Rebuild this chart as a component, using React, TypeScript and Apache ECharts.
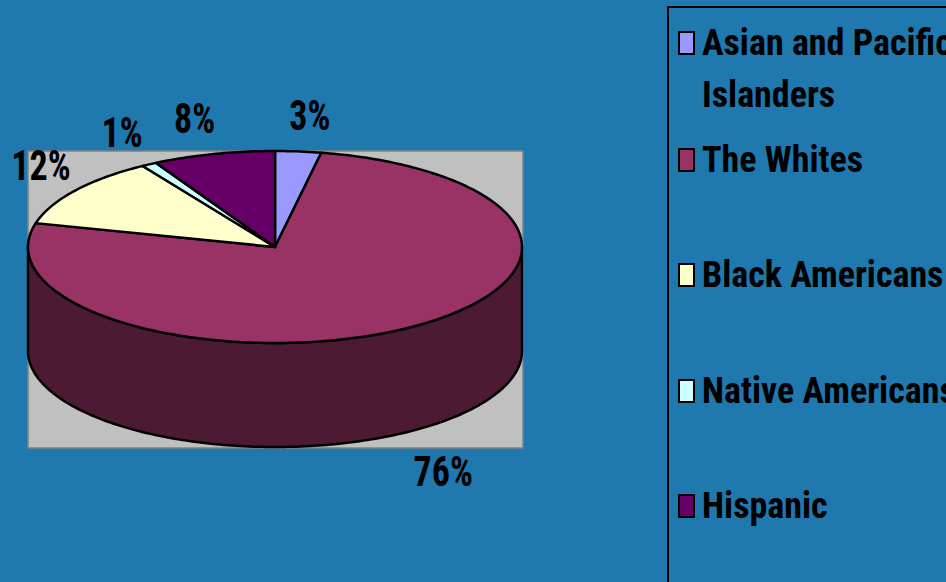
import React, { useEffect, useRef } from "react";
import * as echarts from "echarts";

// ---- data ----
const categories = [
  "Asian and Pacific Islanders",
  "The Whites",
  "Black Americans",
  "Native Americans",
  "Hispanic",
];
const values = [3, 76, 12, 1, 8];
const colors = ["#9999FF", "#993366", "#FFFFCC", "#CCFFFF", "#660066"];

// ---- layout / style ----
const CX = 275;
const CY = 247;
const RX = 247;
const RY = 96;
const DEPTH = 104;
const FONT = "'Roboto Condensed', 'Open Sans Condensed', 'Liberation Sans Narrow', 'DejaVu Sans Condensed', sans-serif";
const LEGEND_CENTERS = [43, 160, 275, 391, 506];
const LEGEND_LH = 52;

const total = values.reduce((a, b) => a + b, 0);

function darken(hex: string, f: number): string {
  const n = parseInt(hex.slice(1), 16);
  const r = Math.round(((n >> 16) & 255) * f);
  const g = Math.round(((n >> 8) & 255) * f);
  const b = Math.round((n & 255) * f);
  return `rgb(${r},${g},${b})`;
}

function pt(t: number, dy = 0): number[] {
  return [CX + RX * Math.sin(t), CY - RY * Math.cos(t) + dy];
}

function arc(a0: number, a1: number, dy = 0): number[][] {
  const pts: number[][] = [];
  const n = Math.max(2, Math.ceil(((a1 - a0) * 180) / Math.PI));
  for (let k = 0; k <= n; k++) pts.push(pt(a0 + ((a1 - a0) * k) / n, dy));
  return pts;
}

function wrapName(name: string): string {
  if (name.length <= 18) return name;
  const idx = name.lastIndexOf(" ", 18);
  return "\n" + name.slice(0, idx) + "\n" + name.slice(idx + 1);
}

export default function App() {
  const ref = useRef<HTMLDivElement>(null);
  useEffect(() => {
    if (!ref.current) return;
    const chart = echarts.init(ref.current, null, { renderer: "svg" });

    const series = categories.map((name, i) => ({
      type: "custom",
      name,
      coordinateSystem: "none",
      itemStyle: { color: colors[i] },
      data: [{ name, value: values[i] }],
      renderItem: (params: any, api: any) => {
        const v = api.value(0) as number;
        const before = values.slice(0, i).reduce((a, b) => a + b, 0);
        const a0 = (before / total) * Math.PI * 2;
        const a1 = ((before + v) / total) * Math.PI * 2;
        const children: any[] = [];
        // visible front wall
        const s = Math.max(a0, Math.PI / 2);
        const e = Math.min(a1, (Math.PI * 3) / 2);
        if (e > s) {
          const top = arc(s, e);
          const bottom = arc(s, e, DEPTH).reverse();
          children.push({
            type: "polygon",
            shape: { points: top.concat(bottom) },
            style: {
              fill: darken(colors[i], 0.5),
              stroke: "#000",
              lineWidth: 2.5,
              lineJoin: "round",
            },
          });
        }
        // top face
        children.push({
          type: "polygon",
          shape: { points: [[CX, CY]].concat(arc(a0, a1)) },
          style: { fill: colors[i], stroke: "#000", lineWidth: 2.5, lineJoin: "round" },
        });
        // percentage label
        const mid = (a0 + a1) / 2;
        const sn = Math.sin(mid);
        const cs = Math.cos(mid);
        const front = cs < 0;
        const edge = pt(mid, front ? DEPTH : 0);
        const dx = 38 * Math.sign(sn) * Math.sqrt(Math.abs(sn)) + (front ? 8 * Math.sign(sn) : 0);
        const dy = -37 * Math.sign(cs) * Math.sqrt(Math.abs(cs)) + (front ? 5 : 4 * Math.abs(sn));
        children.push({
          type: "text",
          x: edge[0] + dx,
          y: edge[1] + dy,
          scaleY: 1.2,
          style: {
            text: `${v}%`,
            fontFamily: FONT,
            fontWeight: "bold",
            fontSize: 36,
            fill: "#000",
            align: "center",
            verticalAlign: "middle",
          },
        });
        return { type: "group", children };
      },
    }));

    const legend = categories.map((name, i) => {
      const txt = wrapName(name);
      const lines = txt.split("\n").length;
      return {
        data: [name],
        orient: "vertical",
        left: 678,
        top: LEGEND_CENTERS[i] - (lines * LEGEND_LH) / 2 - 3,
        padding: 0,
        icon: "rect",
        itemWidth: 15,
        itemHeight: 22,
        selectedMode: false,
        itemStyle: { borderColor: "#000", borderWidth: 2 },
        formatter: () => txt,
        textStyle: {
          fontFamily: FONT,
          fontWeight: "bold",
          fontSize: 36,
          lineHeight: LEGEND_LH,
          color: "#000",
          padding: [0, 0, 6, 3],
        },
      };
    });

    chart.setOption({
      animation: false,
      backgroundColor: "#1F78AE",
      graphic: [
        {
          type: "rect",
          z: -10,
          shape: { x: 28, y: 151, width: 495, height: 297 },
          style: { fill: "#C0C0C0", stroke: "#808080", lineWidth: 1.5 },
        },
        {
          type: "rect",
          z: -10,
          shape: { x: 668, y: 7, width: 400, height: 700 },
          style: { fill: "none", stroke: "#000", lineWidth: 2 },
        },
      ],
      legend,
      series,
    });
    return () => chart.dispose();
  }, []);
  return (
    <div
      ref={ref}
      style={{ position: "fixed", left: 0, top: 0, width: 946, height: 582 }}
    />
  );
}
